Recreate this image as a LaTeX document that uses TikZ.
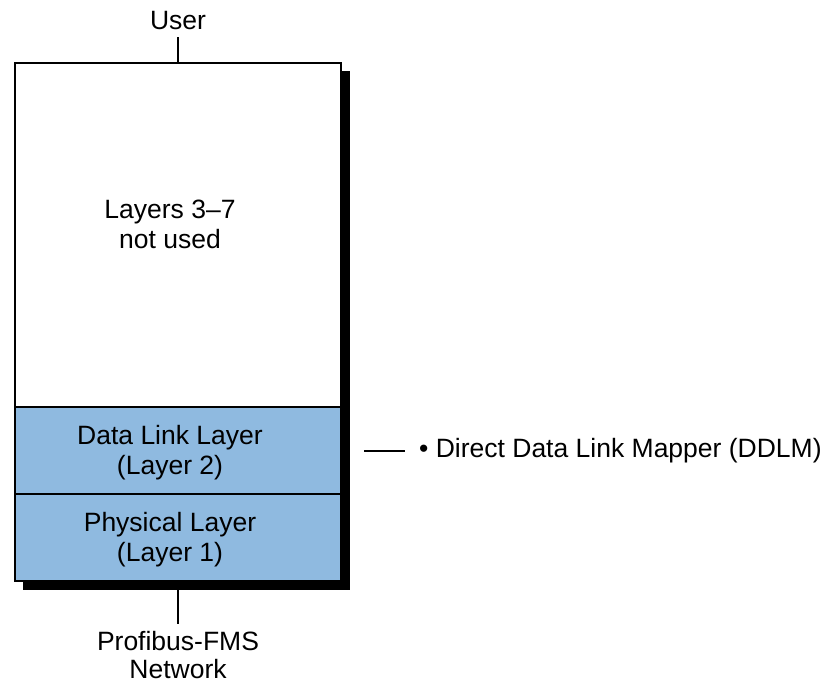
\documentclass[tikz,border=0pt]{standalone}
\usepackage{fontspec}
\setmainfont{Liberation Sans}
\usepackage{xcolor}
\usepackage{tikz}
\usetikzlibrary{positioning,calc,backgrounds}
\definecolor{layerblue}{RGB}{143,186,224}

\begin{document}
\begin{tikzpicture}[
    x=1pt, y=1pt,
    node distance=0pt,
    layer/.style={draw, line width=2pt, rectangle, outer sep=0pt, minimum width=326pt},
    txt/.style={align=center, inner sep=7pt, font=\fontsize{26.5}{30}\selectfont},
    intxt/.style={txt, xshift=-8pt, yshift=-2pt},
    wire/.style={line width=2pt}
]
    \useasboundingbox (0,0) rectangle (828,-683);
    \node[layer, fill=white, minimum height=344pt] (upper) at (178,-235) {};
    \node[txt] (unused) at ([xshift=-8pt, yshift=11pt]upper.center) {Layers 3--7\\not used};
    \node[layer, fill=layerblue, minimum height=87pt, below=of upper,
        label={[intxt]center:Data Link Layer\\(Layer 2)}] (dll) {};
    \node[layer, fill=layerblue, minimum height=87pt, below=of dll,
        label={[intxt]center:Physical Layer\\(Layer 1)}] (phy) {};
    \begin{scope}[on background layer]
        \fill ($(upper.north west)+(8,-8)$) rectangle ($(phy.south east)+(9,-9)$);
    \end{scope}
    \node[txt, above=26pt of upper] (user) {User};
    \node[txt, below=43pt of phy, font=\fontsize{26.5}{28}\selectfont] (net) {Profibus-FMS\\Network};
    \node[txt, inner xsep=14pt, right=64pt of dll] (ddlm) {\textbullet{} Direct Data Link Mapper (DDLM)};
    \coordinate (netport) at ($(phy.south)+(0,-9)$);
    \coordinate (tap) at ([xshift=23pt]dll.east);
    \draw[wire] (user) -- (upper);
    \draw[wire] (netport) -- (net);
    \draw[wire] (tap) -- (ddlm.west);
\end{tikzpicture}
\end{document}
